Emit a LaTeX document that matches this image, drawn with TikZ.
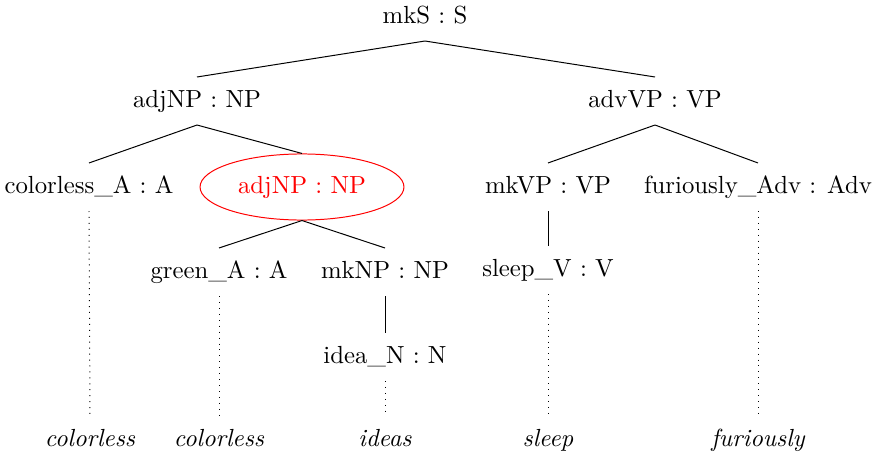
\documentclass[tikz,border=0pt]{standalone}
\usetikzlibrary{shapes.geometric}
\begin{document}
\begin{tikzpicture}[x=0.404pt,y=-0.404pt,
  cat/.style={inner xsep=0pt,inner ysep=5pt,text height=7pt,text depth=2pt},
  focus/.style={ellipse,draw=red,text=red,minimum width=82.4pt,minimum height=26.7pt,inner sep=0pt},
  word/.style={font=\itshape,inner xsep=0pt,inner ysep=5pt,text height=7pt,text depth=2pt},
  edge/.style={line width=0.4pt},
  lex/.style={dotted,line width=0.4pt}]
\useasboundingbox (0,0) rectangle (877,457);
% abstract syntax tree
\node[cat] (s) at (425,17) {mkS : S};
\node[cat] (np) at (197,101) {adjNP : NP};
\node[cat] (vp) at (655,101) {advVP : VP};
\node[cat] (colA) at (89,187) {colorless\_A : A};
\node[focus] (np2) at (302,187) {adjNP : NP};
\node[cat] (mkvp) at (548,187) {mkVP : VP};
\node[cat] (furAdv) at (758,187) {furiously\_Adv : Adv};
\node[cat] (grA) at (219,272) {green\_A : A};
\node[cat] (mknp) at (385,272) {mkNP : NP};
\node[cat] (ideaN) at (385,357) {idea\_N : N};
\node[cat] (sleepV) at (548,270) {sleep\_V : V};
% linearized words
\node[word] (w1) at (90,440) {colorless};
\node[word] (w2) at (219,440) {colorless};
\node[word] (w3) at (385,440) {ideas};
\node[word] (w4) at (548,440) {sleep};
\node[word] (w5) at (758,440) {furiously};
% tree edges
\draw[edge] (s.south) -- (np.north);
\draw[edge] (s.south) -- (vp.north);
\draw[edge] (np.south) -- (colA.north);
\draw[edge] (np.south) -- (np2.north);
\draw[edge] (vp.south) -- (mkvp.north);
\draw[edge] (vp.south) -- (furAdv.north);
\draw[edge] (np2.south) -- (grA.north);
\draw[edge] (np2.south) -- (mknp.north);
\draw[edge] (mknp.south) -- (ideaN.north);
\draw[edge] (mkvp.south) -- (sleepV.north);
% lexical links
\draw[lex] (colA.south) -- (w1.north);
\draw[lex] (grA.south) -- (w2.north);
\draw[lex] (ideaN.south) -- (w3.north);
\draw[lex] (sleepV.south) -- (w4.north);
\draw[lex] (furAdv.south) -- (w5.north);
\end{tikzpicture}
\end{document}
